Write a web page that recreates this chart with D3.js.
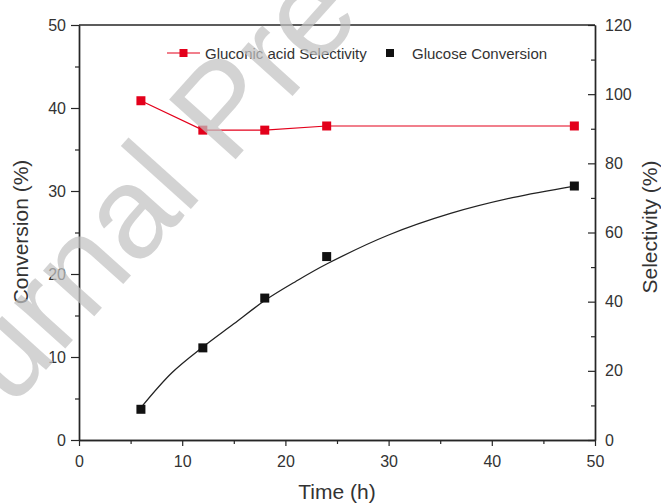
<!DOCTYPE html>
<html>
<head>
<meta charset="utf-8">
<script src="https://cdn.jsdelivr.net/npm/d3@7"></script>
<style>
  html, body { margin: 0; padding: 0; background: #fff; }
  svg { display: block; font-family: "Liberation Sans", Arial, sans-serif; }
</style>
</head>
<body>
<svg id="chart" width="661" height="504"></svg>
<script>
// time points (h)
const times = [6, 12, 18, 24, 48];
// glucose conversion (%), left axis
const conversion = [3.7, 11.1, 17.1, 22.1, 30.6];
// gluconic acid selectivity (%), right axis
const selectivity = [98.1, 89.6, 89.6, 90.8, 90.8];
// fitted conversion curve
const fitTimes = [6, 9, 12, 15, 18, 21, 24, 30, 36, 42, 48];
const fitValues = [3.9, 8.1, 11.2, 14.0, 16.8, 19.1, 21.2, 24.7, 27.3, 29.2, 30.6];

const xTicks = [0, 10, 20, 30, 40, 50];
const xMinor = [5, 15, 25, 35, 45];
const yLeftTicks = [0, 10, 20, 30, 40, 50];
const yLeftMinor = [5, 15, 25, 35, 45];
const yRightTicks = [0, 20, 40, 60, 80, 100, 120];
const yRightMinor = [10, 30, 50, 70, 90, 110];

const svg = d3.select('#chart');
const plotLeft = 79, plotRight = 595, plotTop = 25, plotBottom = 440;
const ink = '#262626';

const x = d3.scaleLinear().domain([0, 50]).range([plotLeft, plotRight]);
const yL = d3.scaleLinear().domain([0, 50]).range([plotBottom, plotTop]);
const yR = d3.scaleLinear().domain([0, 120]).range([plotBottom, plotTop]);

/// axes: major + minor ticks
function styleAxis(g, size) {
  g.select('.domain').attr('stroke', ink).attr('stroke-width', 1.4);
  g.selectAll('.tick line').attr('stroke', ink).attr('stroke-width', 1.2);
  g.selectAll('.tick text').attr('fill', '#333').style('font-size', size + 'px');
}

svg.append('g').attr('transform', `translate(0,${plotBottom})`)
  .call(d3.axisBottom(x).tickValues(xMinor).tickSize(4).tickSizeOuter(0).tickFormat(''))
  .call(g => styleAxis(g, 16));
svg.append('g').attr('transform', `translate(0,${plotBottom})`)
  .call(d3.axisBottom(x).tickValues(xTicks).tickSize(6).tickSizeOuter(0).tickPadding(10))
  .call(g => styleAxis(g, 16));

svg.append('g').attr('transform', `translate(${plotLeft},0)`)
  .call(d3.axisLeft(yL).tickValues(yLeftMinor).tickSize(4).tickSizeOuter(0).tickFormat(''))
  .call(g => styleAxis(g, 16));
svg.append('g').attr('transform', `translate(${plotLeft},0)`)
  .call(d3.axisLeft(yL).tickValues(yLeftTicks).tickSize(8).tickSizeOuter(0).tickPadding(5))
  .call(g => styleAxis(g, 16));

svg.append('g').attr('transform', `translate(${plotRight},0)`)
  .call(d3.axisRight(yR).tickValues(yRightMinor).tickSize(-4).tickSizeOuter(0).tickFormat(''))
  .call(g => styleAxis(g, 16));
svg.append('g').attr('transform', `translate(${plotRight},0)`)
  .call(d3.axisRight(yR).tickValues(yRightTicks).tickSize(-7).tickSizeOuter(0).tickPadding(10))
  .call(g => styleAxis(g, 16));

// top frame line
svg.append('line')
  .attr('x1', plotLeft).attr('x2', plotRight).attr('y1', plotTop).attr('y2', plotTop)
  .attr('stroke', ink).attr('stroke-width', 1.4);

/// axis titles
svg.append('text')
  .attr('transform', `translate(28,232) rotate(-90)`)
  .attr('text-anchor', 'middle').attr('fill', '#333').style('font-size', '21px')
  .text('Conversion (%)');
svg.append('text')
  .attr('transform', `translate(657,227) rotate(-90)`)
  .attr('text-anchor', 'middle').attr('fill', '#333').style('font-size', '21px')
  .text('Selectivity (%)');
svg.append('text')
  .attr('x', (plotLeft + plotRight) / 2).attr('y', 499)
  .attr('text-anchor', 'middle').attr('fill', '#333').style('font-size', '21px')
  .text('Time (h)');

/// fitted conversion curve
const fitData = fitTimes.map((t, i) => ({t: t, v: fitValues[i]}));
svg.append('path')
  .datum(fitData)
  .attr('fill', 'none').attr('stroke', '#222').attr('stroke-width', 1.3)
  .attr('d', d3.line().x(d => x(d.t)).y(d => yL(d.v)).curve(d3.curveCatmullRom.alpha(0.5)));

/// selectivity line + markers
const red = '#e3001b';
const selData = times.map((t, i) => ({t: t, v: selectivity[i]}));
svg.append('path')
  .datum(selData)
  .attr('fill', 'none').attr('stroke', red).attr('stroke-width', 1.2)
  .attr('d', d3.line().x(d => x(d.t)).y(d => yR(d.v)));

const sq = 9;
svg.append('g').selectAll('rect')
  .data(selData)
  .enter().append('rect')
  .attr('x', d => x(d.t) - sq / 2).attr('y', d => yR(d.v) - sq / 2)
  .attr('width', sq).attr('height', sq)
  .attr('fill', red);

const convData = times.map((t, i) => ({t: t, v: conversion[i]}));
svg.append('g').selectAll('rect')
  .data(convData)
  .enter().append('rect')
  .attr('x', d => x(d.t) - sq / 2).attr('y', d => yL(d.v) - sq / 2)
  .attr('width', sq).attr('height', sq)
  .attr('fill', '#111');

/// legend
const legY = 53;
svg.append('line').attr('x1', 167).attr('x2', 200).attr('y1', legY).attr('y2', legY)
  .attr('stroke', red).attr('stroke-width', 1.2);
svg.append('rect').attr('x', 183.5 - 4).attr('y', legY - 4).attr('width', 8).attr('height', 8).attr('fill', red);
svg.append('text').attr('x', 205).attr('y', legY + 5.5).attr('fill', '#333').style('font-size', '15px')
  .text('Gluconic acid Selectivity');
svg.append('rect').attr('x', 390 - 4).attr('y', legY - 4).attr('width', 8).attr('height', 8).attr('fill', '#111');
svg.append('text').attr('x', 412).attr('y', legY + 5.5).attr('fill', '#333').style('font-size', '15px')
  .text('Glucose Conversion');

/// watermark
svg.append('text')
  .attr('transform', 'translate(-81,511) rotate(-48)')
  .attr('fill', '#c2c2c2').attr('fill-opacity', 0.72)
  .style('font-size', '130px')
  .text('Journal Pre-proof');
</script>
</body>
</html>
